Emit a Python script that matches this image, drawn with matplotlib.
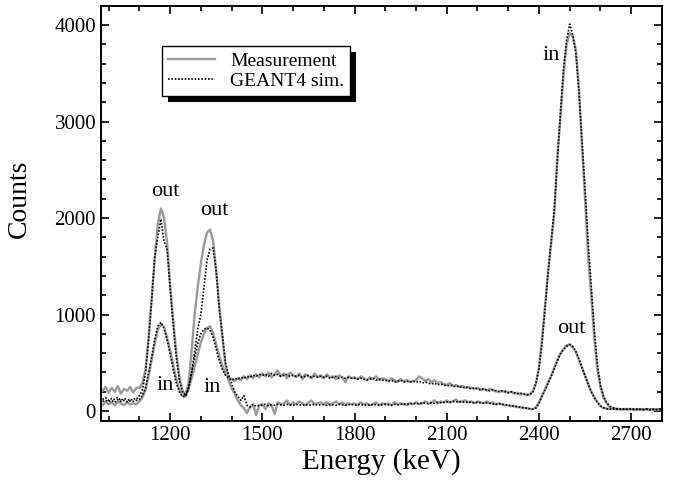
"""Measured vs GEANT4-simulated 60Co spectra, source inside and outside the well."""
import matplotlib
matplotlib.use("Agg")
import matplotlib.pyplot as plt
from matplotlib.patches import Rectangle
from matplotlib.ticker import MultipleLocator
from matplotlib.transforms import IdentityTransform
import numpy as np

plt.rcParams["font.family"] = ["Liberation Serif", "DejaVu Serif"]
plt.rcParams["mathtext.fontset"] = "stix"

# -- spectra on a 10 keV grid (980 .. 2800 keV) --
energy = np.arange(980, 2801, 10)

meas_out = [
    210, 250,
    190, 240, 200, 260, 180, 230, 210, 250, 190, 240,
    240, 290, 430, 760, 1170, 1580, 1940, 2100, 2010, 1750,
    1300, 940, 610, 360, 210, 170, 290, 620, 1010, 1290,
    1530, 1720, 1850, 1880, 1760, 1450, 1090, 760, 480, 320,
    240, 180, 110, 60, 30, -20, 40, 70, -40, 60,
    70, 20, 80, 60, -30, 90, 70, 80, 110, 60,
    90, 70, 100, 80, 60, 90, 110, 70, 80, 90,
    70, 90, 60, 80, 100, 70, 90, 60, 80, 70,
    80, 60, 90, 70, 80, 60, 70, 90, 60, 80,
    70, 80, 60, 90, 70, 80, 70, 60, 80, 70,
    90, 70, 80, 100, 80, 90, 110, 80, 100, 90,
    110, 90, 100, 120, 90, 100, 110, 90, 100, 80,
    100, 90, 80, 100, 80, 90, 70, 80, 70, 60,
    60, 50, 50, 40, 40, 30, 30, 20, 20, 40,
    90, 160, 230, 300, 370, 450, 530, 600, 640, 680,
    690, 660, 610, 530, 450, 360, 280, 200, 140, 90,
    50, 30, 25, 20, 25, 20, 20, 15, 20, 20,
    20, 15, 20, 20, 15, 20, 15, 20, 15, 15,
    15,
]

meas_in = [
    60, 100,
    70, 90, 60, 100, 80, 60, 90, 70, 80, 70,
    100, 140, 220, 370, 530, 700, 840, 900, 870, 770,
    630, 480, 330, 220, 160, 150, 230, 340, 460, 590,
    710, 800, 860, 880, 810, 690, 570, 470, 390, 350,
    330, 310, 340, 320, 360, 330, 370, 340, 380, 350,
    390, 360, 400, 350, 380, 420, 360, 390, 340, 400,
    370, 350, 390, 330, 380, 360, 340, 390, 350, 370,
    340, 380, 350, 360, 330, 370, 350, 300, 360, 340,
    350, 330, 360, 340, 320, 350, 330, 360, 320, 340,
    330, 310, 340, 320, 300, 330, 310, 320, 300, 310,
    320, 360, 340, 310, 330, 300, 320, 290, 300, 280,
    270, 290, 260, 270, 250, 260, 240, 250, 240, 230,
    240, 220, 230, 210, 230, 220, 200, 210, 200, 210,
    190, 200, 180, 190, 170, 180, 165, 170, 210, 290,
    450, 750, 1100, 1450, 1750, 2050, 2650, 3050, 3500, 3800,
    3920, 3880, 3750, 3350, 2750, 2200, 1600, 1200, 750, 430,
    250, 140, 80, 45, 30, 25, 20, 20, 20, 20,
    20, 20, 15, 20, 20, 15, 20, 20, 15, 20,
    20,
]

sim_out = [
    120, 140,
    110, 130, 120, 140, 110, 130, 120, 110, 130, 120,
    160, 220, 400, 740, 1150, 1600, 1800, 1990, 1760, 1680,
    1280, 900, 560, 320, 200, 160, 230, 400, 620, 850,
    1000, 1280, 1560, 1680, 1690, 1450, 1050, 800, 500, 380,
    290, 200, 150, 110, 160, 60, 40, 70, 50, 60,
    60, 70, 55, 65, 60, 70, 65, 60, 70, 65,
    60, 70, 65, 60, 70, 60, 65, 70, 60, 65,
    65, 60, 70, 65, 60, 70, 65, 60, 65, 70,
    60, 65, 70, 60, 65, 60, 70, 65, 60, 65,
    70, 65, 60, 70, 65, 70, 75, 70, 80, 75,
    80, 75, 85, 80, 75, 85, 80, 90, 85, 90,
    95, 90, 100, 95, 100, 95, 90, 95, 90, 85,
    90, 85, 80, 85, 80, 75, 70, 75, 70, 65,
    60, 55, 50, 45, 40, 35, 30, 25, 20, 30,
    80, 150, 220, 290, 360, 440, 520, 590, 640, 670,
    690, 670, 620, 540, 450, 370, 280, 200, 140, 90,
    55, 35, 25, 20, 20, 20, 20, 20, 20, 15,
    20, 15, 20, 15, 15, 20, 15, 15, 15, 15,
    15,
]

sim_in = [
    100, 110,
    100, 110, 90, 120, 100, 110, 95, 105, 100, 110,
    120, 160, 240, 390, 560, 740, 880, 920, 860, 740,
    590, 430, 290, 200, 150, 150, 250, 400, 560, 700,
    800, 850, 860, 840, 760, 640, 520, 430, 370, 340,
    320, 340, 330, 350, 340, 360, 350, 370, 360, 380,
    370, 380, 360, 390, 370, 380, 360, 370, 380, 360,
    370, 360, 370, 350, 360, 370, 350, 360, 350, 360,
    350, 360, 340, 350, 360, 340, 350, 340, 350, 340,
    340, 330, 340, 330, 320, 330, 340, 320, 330, 320,
    320, 310, 320, 300, 310, 320, 300, 310, 300, 310,
    300, 310, 290, 300, 290, 280, 290, 270, 280, 270,
    260, 270, 260, 250, 260, 240, 250, 240, 230, 240,
    230, 220, 230, 220, 210, 220, 210, 200, 210, 200,
    190, 200, 190, 180, 185, 175, 170, 175, 190, 280,
    440, 700, 1080, 1450, 1780, 2100, 2600, 3100, 3550, 3850,
    4010, 3900, 3700, 3300, 2800, 2300, 1750, 1300, 850, 480,
    270, 150, 90, 50, 35, 25, 20, 20, 20, 20,
    20, 20, 15, 20, 15, 20, 15, 20, 15, 20,
    20,
]

# -- peak labels: (text, energy, counts) --
labels = [
    ("out", 1184, 2280),
    ("out", 1343, 2075),
    ("in", 1184, 265),
    ("in", 1337, 240),
    ("in", 2440, 3690),
    ("out", 2505, 860),
]

GRAY = "#9a9a9a"

fig = plt.figure(figsize=(6.73, 4.83), dpi=100)
ax = fig.add_axes([0.150, 0.128, 0.834, 0.859])

for counts in (meas_out, meas_in):
    ax.plot(energy, counts, color=GRAY, linewidth=1.7, zorder=2)
for counts in (sim_out, sim_in):
    ax.plot(energy, counts, color="black", linewidth=1.2,
            linestyle=(0, (1, 1)), zorder=3)

for text, e, c in labels:
    ax.text(e, c, text, fontsize=16, ha="center", va="center")

ax.set_xlim(975, 2801)
ax.set_ylim(-105, 4195)
ax.xaxis.set_major_locator(MultipleLocator(300))
ax.xaxis.set_minor_locator(MultipleLocator(100))
ax.yaxis.set_major_locator(MultipleLocator(1000))
ax.yaxis.set_minor_locator(MultipleLocator(200))
ax.set_xticks([1200, 1500, 1800, 2100, 2400, 2700])
ax.tick_params(which="both", direction="in", top=True, right=True,
               width=1.2, labelsize=15, colors="black")
ax.tick_params(which="major", length=6)
ax.tick_params(which="minor", length=3.5)
for sp in ax.spines.values():
    sp.set_linewidth(1.4)

ax.set_xlabel("Energy (keV)", fontsize=21, labelpad=2)
ax.set_ylabel("Counts", fontsize=20)
ax.yaxis.set_label_coords(-0.123, 0.535)

# -- legend with a hard black drop shadow --
h_meas, = ax.plot([], [], color=GRAY, linewidth=1.7, label="Measurement")
h_sim, = ax.plot([], [], color="black", linewidth=1.2,
                 linestyle=(0, (1, 1)), label="GEANT4 sim.")
leg = ax.legend(handles=[h_meas, h_sim], loc="upper left",
                bbox_to_anchor=(0.109, 0.904), fontsize=14,
                frameon=True, fancybox=False, shadow=False, framealpha=1,
                handlelength=2.4, handletextpad=0.8, borderpad=0.3,
                labelspacing=0.15, borderaxespad=0)
leg.get_frame().set_edgecolor("black")
leg.get_frame().set_facecolor("white")
leg.get_frame().set_linewidth(1.0)
leg.set_zorder(6)

fig.canvas.draw()
bb = leg.get_frame().get_window_extent()
shadow = Rectangle((bb.x0 + 6, bb.y0 - 6), bb.width, bb.height,
                   transform=IdentityTransform(), facecolor="black",
                   edgecolor="none", zorder=5.5, clip_on=False)
ax.add_patch(shadow)

fig.savefig("out.png", dpi=100)
plt.close(fig)
